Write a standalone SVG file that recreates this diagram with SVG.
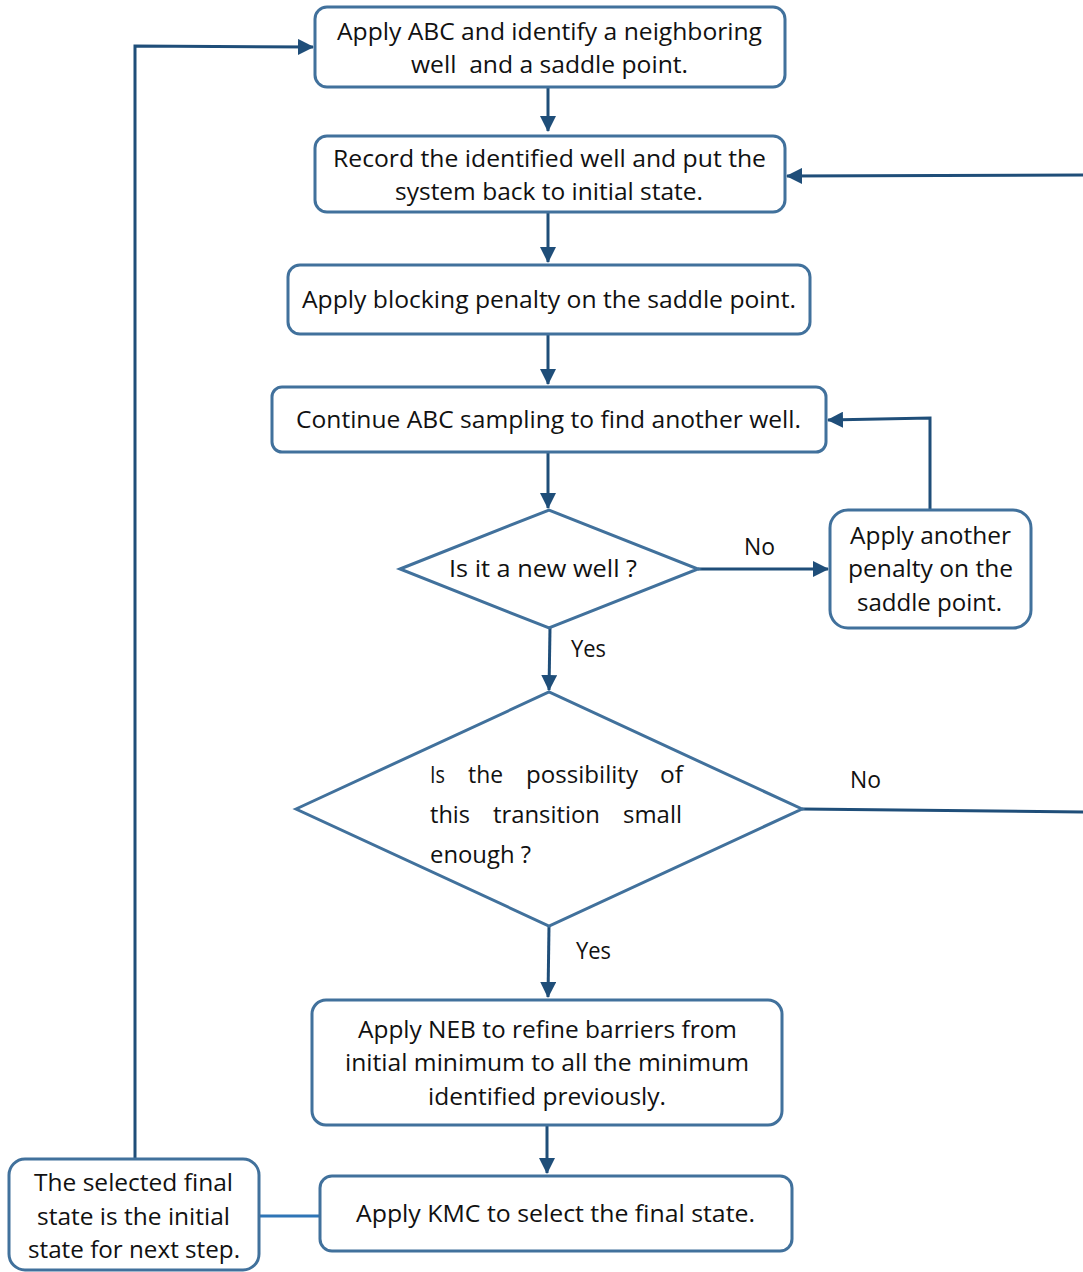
<svg xmlns="http://www.w3.org/2000/svg" width="1083" height="1272" viewBox="0 0 1083 1272">
<style>
.box{fill:#fff;stroke:#41719c;stroke-width:3}
.t{font-family:"Open Sans","Noto Sans",sans-serif;font-size:23px;fill:#111;white-space:pre}
.c{fill:none;stroke:#1f4e79;stroke-width:3}
.c2{fill:none;stroke:#2e75b6;stroke-width:3}
</style>
<defs>
<marker id="ah" markerUnits="userSpaceOnUse" markerWidth="16" markerHeight="16" viewBox="0 0 16 16" refX="15" refY="8" orient="auto">
<path d="M0,0 L16,8 L0,16 z" fill="#1f4e79"/>
</marker>
</defs>
<rect width="1083" height="1272" fill="#fff"/>
<g id="connectors">
<path class="c" d="M548,87 L548,131" marker-end="url(#ah)"/>
<path class="c" d="M548,212 L548,262" marker-end="url(#ah)"/>
<path class="c" d="M548,334 L548,384" marker-end="url(#ah)"/>
<path class="c" d="M548,452 L548,508" marker-end="url(#ah)"/>
<path class="c" d="M698,569 L828,569" marker-end="url(#ah)"/>
<path class="c" d="M930,510 L930,418 L828,420" marker-end="url(#ah)"/>
<path class="c" d="M550,628 L549,690" marker-end="url(#ah)"/>
<path class="c" d="M802,809 L1090,812 L1090,175 L787,176" marker-end="url(#ah)"/>
<path class="c" d="M549,926 L548,997" marker-end="url(#ah)"/>
<path class="c" d="M547,1125 L547,1173" marker-end="url(#ah)"/>
<path class="c2" d="M259,1216 L320,1216"/>
<path class="c" d="M135,1160 L135,46 L313,47" marker-end="url(#ah)"/>
<text class="t" x="744" y="555" textLength="31" lengthAdjust="spacingAndGlyphs">No</text>
<text class="t" x="571" y="657" textLength="35" lengthAdjust="spacingAndGlyphs">Yes</text>
<text class="t" x="850" y="788" textLength="31" lengthAdjust="spacingAndGlyphs">No</text>
<text class="t" x="576" y="959" textLength="35" lengthAdjust="spacingAndGlyphs">Yes</text>
</g>
<g id="n1">
<rect class="box" x="315" y="7" width="470" height="80" rx="12"/>
<text class="t" x="337" y="40" textLength="425" lengthAdjust="spacingAndGlyphs">Apply ABC and identify a neighboring</text>
<text class="t" x="411" y="73" textLength="277" lengthAdjust="spacingAndGlyphs" xml:space="preserve">well  and a saddle point.</text>
</g>
<g id="n2">
<rect class="box" x="315" y="136" width="470" height="76" rx="12"/>
<text class="t" x="333" y="167" textLength="433" lengthAdjust="spacingAndGlyphs">Record the identified well and put the</text>
<text class="t" x="395" y="200" textLength="308" lengthAdjust="spacingAndGlyphs">system back to initial state.</text>
</g>
<g id="n3">
<rect class="box" x="288" y="265" width="522" height="69" rx="12"/>
<text class="t" x="302" y="308" textLength="494" lengthAdjust="spacingAndGlyphs">Apply blocking penalty on the saddle point.</text>
</g>
<g id="n4">
<rect class="box" x="272" y="387" width="554" height="65" rx="10"/>
<text class="t" x="296" y="428" textLength="505" lengthAdjust="spacingAndGlyphs">Continue ABC sampling to find another well.</text>
</g>
<g id="d1">
<polygon class="box" points="400,569 549,510 698,569 549,628"/>
<text class="t" x="449" y="577" textLength="188" lengthAdjust="spacingAndGlyphs">Is it a new well ?</text>
</g>
<g id="n5">
<rect class="box" x="830" y="510" width="201" height="118" rx="18"/>
<text class="t" x="850" y="544" textLength="161" lengthAdjust="spacingAndGlyphs">Apply another</text>
<text class="t" x="848" y="577" textLength="165" lengthAdjust="spacingAndGlyphs">penalty on the</text>
<text class="t" x="857" y="611" textLength="145" lengthAdjust="spacingAndGlyphs">saddle point.</text>
</g>
<g id="d2">
<polygon class="box" points="296,809 549,692 802,809 549,926"/>
<text class="t" y="783"><tspan x="430" textLength="15" lengthAdjust="spacingAndGlyphs">Is</tspan> <tspan x="468" textLength="35" lengthAdjust="spacingAndGlyphs">the</tspan> <tspan x="526" textLength="112" lengthAdjust="spacingAndGlyphs">possibility</tspan> <tspan x="660" textLength="23" lengthAdjust="spacingAndGlyphs">of</tspan></text>
<text class="t" y="823"><tspan x="430" textLength="40" lengthAdjust="spacingAndGlyphs">this</tspan> <tspan x="493" textLength="107" lengthAdjust="spacingAndGlyphs">transition</tspan> <tspan x="623" textLength="59" lengthAdjust="spacingAndGlyphs">small</tspan></text>
<text class="t" x="430" y="863" textLength="101" lengthAdjust="spacingAndGlyphs">enough ?</text>
</g>
<g id="n6">
<rect class="box" x="312" y="1000" width="470" height="125" rx="14"/>
<text class="t" x="358" y="1038" textLength="379" lengthAdjust="spacingAndGlyphs">Apply NEB to refine barriers from</text>
<text class="t" x="345" y="1071" textLength="404" lengthAdjust="spacingAndGlyphs">initial minimum to all the minimum</text>
<text class="t" x="428" y="1105" textLength="238" lengthAdjust="spacingAndGlyphs">identified previously.</text>
</g>
<g id="n7">
<rect class="box" x="320" y="1176" width="472" height="75" rx="12"/>
<text class="t" x="356" y="1222" textLength="399" lengthAdjust="spacingAndGlyphs">Apply KMC to select the final state.</text>
</g>
<g id="n8">
<rect class="box" x="9" y="1159" width="250" height="111" rx="16"/>
<text class="t" x="34" y="1191" textLength="199" lengthAdjust="spacingAndGlyphs">The selected final</text>
<text class="t" x="37" y="1225" textLength="193" lengthAdjust="spacingAndGlyphs">state is the initial</text>
<text class="t" x="28" y="1258" textLength="212" lengthAdjust="spacingAndGlyphs">state for next step.</text>
</g>
</svg>
